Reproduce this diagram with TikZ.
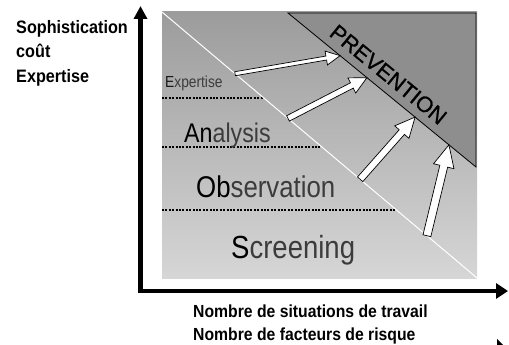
\documentclass[tikz,border=0pt]{standalone}
\usepackage{fontspec}
\setmainfont{Liberation Sans}
\newfontfamily\narrowf[FakeStretch=0.86]{Liberation Sans}
\newfontfamily\heavyf[FakeBold=0.9]{Liberation Sans}
\newfontfamily\axisf[FakeStretch=0.9]{Liberation Sans Bold}
\usetikzlibrary{calc,arrows.meta}
\definecolor{bandtop}{HTML}{9C9C9C}
\definecolor{bandbot}{HTML}{D6D6D6}
\definecolor{prevfill}{HTML}{8E8E8E}
\definecolor{softtext}{HTML}{3C3C3C}
\newcommand\fatarrow[5]{%
  \coordinate (fa-h) at ($(#2)!#5!(#1)$);
  \filldraw[fatarrowstyle]
    ($(#1)!#3!90:(#2)$) -- ($(fa-h)!#3!90:(#2)$) -- ($(fa-h)!#4!90:(#2)$) -- (#2)
    -- ($(fa-h)!#4!-90:(#2)$) -- ($(fa-h)!#3!-90:(#2)$) -- ($(#1)!#3!-90:(#2)$) -- cycle;
}
\tikzset{
  fatarrowstyle/.style={fill=white, draw=black, line width=0.7pt, line join=miter},
  dotline/.style={line width=2.2pt, dash pattern=on 2pt off 1.4pt},
  axislabel/.style={anchor=base west, inner sep=0pt, font=\axisf\fontsize{18}{20}\selectfont},
  bandlabel/.style={anchor=base west, inner sep=0pt, text=softtext},
  axisline/.style={line width=4.5pt, line join=miter, {Triangle[length=13pt,width=13pt]}-{Triangle[length=12pt,width=15pt]}},
}
\begin{document}
\begin{tikzpicture}[x=1pt,y=-1pt]
\useasboundingbox (0,0) rectangle (509,345);
% shaded field
\shade[top color=bandtop, bottom color=bandbot] (162,12) rectangle (477,278);
\coordinate (d1) at (162,12);
\coordinate (d2) at (477,278);
% dotted separators ending at the diagonal
\coordinate (s1a) at (162,98);  \coordinate (s1b) at (263,98);
\coordinate (s2a) at (162,147); \coordinate (s2b) at (321,147);
\coordinate (s3a) at (162,210); \coordinate (s3b) at (395,210);
\draw[dotline] (s1a) -- (s1b);
\draw[dotline] (s2a) -- (s2b);
\draw[dotline] (s3a) -- (s3b);
% band labels
\node[bandlabel, font=\narrowf\fontsize{16}{18}\selectfont] (lexp) at (165,88) {\textcolor{black!90}{E}xpertise};
\node[bandlabel, font=\narrowf\fontsize{27}{30}\selectfont] (lana) at (184,142) {\textcolor{black}{An}alysis};
\node[bandlabel, font=\narrowf\fontsize{30}{33}\selectfont] (lobs) at (196,197) {\textcolor{black}{Ob}servation};
\node[bandlabel, font=\narrowf\fontsize{32}{35}\selectfont] (lscr) at (231,258) {\textcolor{black}{S}creening};
% white diagonal
\draw[white, line width=1pt] (d1) -- (d2);
% prevention triangle
\coordinate (p1) at (288,13);
\coordinate (p2) at (476,13);
\coordinate (p3) at (476,167);
\filldraw[fill=prevfill, draw=black, line width=0.8pt, line join=miter] (p1) -- (p2) -- (p3) -- cycle;
\path (p1) -- (p3) node[pos=0.48, sloped, above=8pt, inner sep=0pt, font=\heavyf\fontsize{22}{24}\selectfont] (prev) {PREVENTION};
% fat arrows from diagonal to prevention edge
\coordinate (a1t) at ($(d1)!0.232!(d2)$); \coordinate (a1h) at ($(p1)!0.277!(p3)$);
\coordinate (a2t) at ($(d1)!0.400!(d2)$); \coordinate (a2h) at ($(p1)!0.420!(p3)$);
\coordinate (a3t) at ($(d1)!0.629!(d2)$); \coordinate (a3h) at ($(p1)!0.676!(p3)$);
\coordinate (a4t) at ($(d1)!0.841!(d2)$); \coordinate (a4h) at ($(p1)!0.856!(p3)$);
\fatarrow{a1t}{a1h}{2pt}{7pt}{14pt}
\fatarrow{a2t}{a2h}{3pt}{8.5pt}{17pt}
\fatarrow{a3t}{a3h}{3.5pt}{9.5pt}{20pt}
\fatarrow{a4t}{a4h}{4pt}{10.5pt}{22pt}
% axes
\coordinate (ytip) at (140.5,6);
\coordinate (corner) at (140.5,291);
\coordinate (xtip) at (508,291);
\draw[axisline] (ytip) -- (corner) -- (xtip);
% axis labels
\node[axislabel] (y1) at (16,34) {Sophistication};
\node[axislabel] (y2) at (16,58) {coût};
\node[axislabel] (y3) at (16,83) {Expertise};
\node[axislabel, font=\axisf\fontsize{17.5}{20}\selectfont] (x1) at (193,317) {Nombre de situations de travail};
\node[axislabel, font=\axisf\fontsize{17.5}{20}\selectfont] (x2) at (193,340) {Nombre de facteurs de risque};
% small mark at the lower right corner
\fill (497,339) -- (503,345) -- (497,345) -- cycle;
\end{tikzpicture}
\end{document}
